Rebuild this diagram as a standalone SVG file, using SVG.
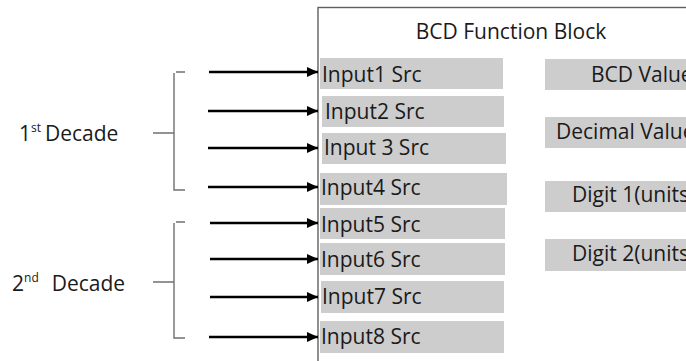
<svg xmlns="http://www.w3.org/2000/svg" width="686" height="361" viewBox="0 0 686 361">
<style>
  text { font-family: "Open Sans", "Noto Sans", "Liberation Sans", sans-serif; font-size: 21px; fill: #1a1a1a; }
  .cell { fill: #cdcdcd; }
  .arrow { stroke: #000; stroke-width: 2.6; fill: none; marker-end: url(#ah); }
  .br { stroke: #707070; stroke-width: 1.4; fill: none; }
  .sup { font-size: 12px; }
</style>
<defs>
  <marker id="ah" markerUnits="userSpaceOnUse" markerWidth="11" markerHeight="10" refX="11" refY="5" orient="auto">
    <path d="M0,0 L11,5 L0,10 Z" fill="#000"/>
  </marker>
</defs>
<rect width="686" height="361" fill="#fff"/>
<g id="block">
  <rect x="318" y="7.5" width="420" height="400" fill="none" stroke="#606060" stroke-width="1.4"/>
  <text x="511" y="39" text-anchor="middle">BCD Function Block</text>
</g>
<g id="input1"><rect class="cell" x="320" y="58" width="183" height="31"/><text x="322" y="82">Input1 Src</text></g>
<g id="input2"><rect class="cell" x="322" y="96" width="182" height="31"/><text x="325" y="119">Input2 Src</text></g>
<g id="input3"><rect class="cell" x="322" y="133" width="184" height="31"/><text x="324" y="155">Input 3 Src</text></g>
<g id="input4"><rect class="cell" x="320" y="173" width="187" height="32"/><text x="321" y="195">Input4 Src</text></g>
<g id="input5"><rect class="cell" x="320" y="208" width="185" height="31"/><text x="321" y="232">Input5 Src</text></g>
<g id="input6"><rect class="cell" x="320" y="243" width="185" height="32"/><text x="321" y="267">Input6 Src</text></g>
<g id="input7"><rect class="cell" x="321" y="281" width="183" height="32"/><text x="322" y="304">Input7 Src</text></g>
<g id="input8"><rect class="cell" x="320" y="321" width="184" height="32"/><text x="321" y="344">Input8 Src</text></g>
<g id="bcd-value"><rect class="cell" x="545" y="59" width="160" height="31"/><text x="591" y="82">BCD Value</text></g>
<g id="decimal-value"><rect class="cell" x="545" y="117" width="160" height="31"/><text x="556" y="139">Decimal Value</text></g>
<g id="digit1"><rect class="cell" x="545" y="181" width="160" height="31"/><text x="572" y="202">Digit 1(units)</text></g>
<g id="digit2"><rect class="cell" x="545" y="239" width="160" height="32"/><text x="572" y="261">Digit 2(units)</text></g>
<g id="decade1">
  <text x="19" y="141">1<tspan class="sup" dy="-9">st</tspan><tspan dx="4" dy="9">Decade</tspan></text>
</g>
<g id="decade2">
  <text x="12" y="291">2<tspan class="sup" dy="-9">nd</tspan><tspan dx="13" dy="9">Decade</tspan></text>
</g>
<g id="connectors">
  <line class="arrow" x1="209" y1="72" x2="318" y2="72"/>
  <line class="arrow" x1="208" y1="111" x2="318" y2="111"/>
  <line class="arrow" x1="208" y1="148" x2="318" y2="148"/>
  <line class="arrow" x1="208" y1="187" x2="318" y2="187"/>
  <line class="arrow" x1="210" y1="223" x2="318" y2="223"/>
  <line class="arrow" x1="210" y1="259" x2="318" y2="259"/>
  <line class="arrow" x1="210" y1="297" x2="318" y2="297"/>
  <line class="arrow" x1="209" y1="337" x2="318" y2="337"/>
  <path class="br" d="M176,72 H185 M174,73 V190 H185 M153,133 H174"/>
  <path class="br" d="M176,222 H185 M174,223 V338 H185 M153,282 H174"/>
</g>
</svg>
